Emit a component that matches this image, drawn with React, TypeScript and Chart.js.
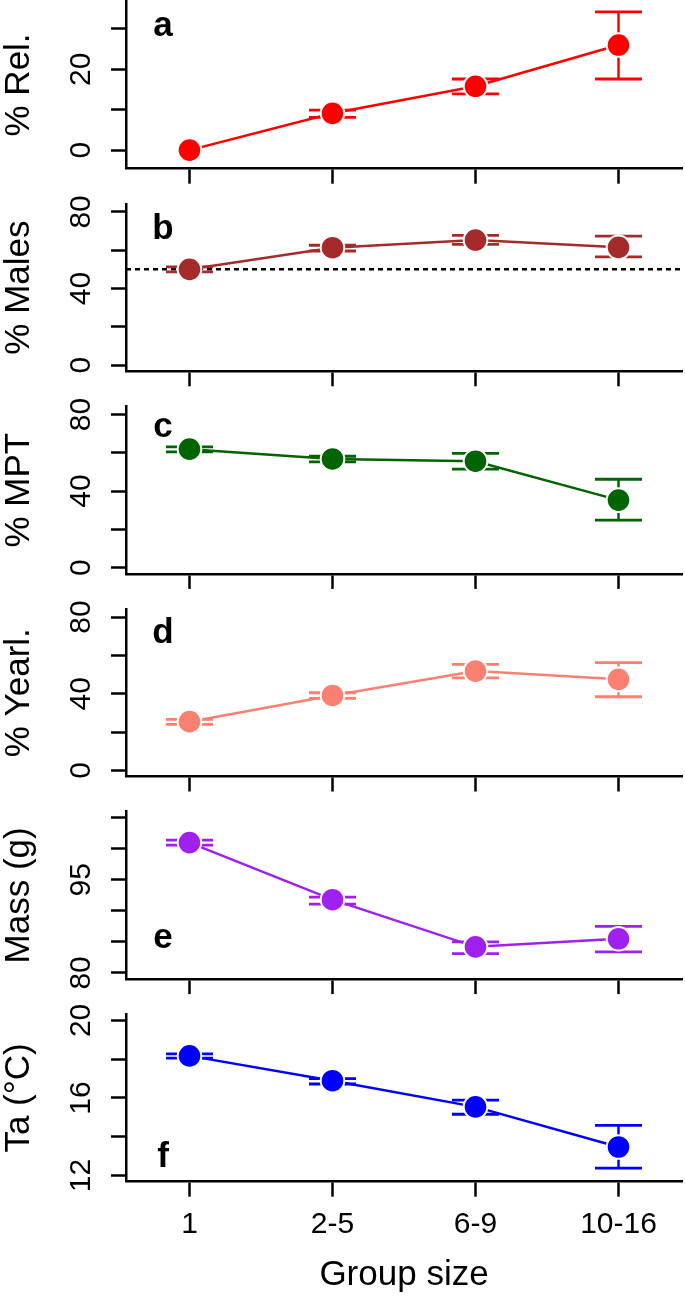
import React, { useEffect, useRef } from 'react';
import { Chart, registerables } from 'chart.js';

Chart.register(...registerables);

// ---------- data ----------
const groups = ['1', '2-5', '6-9', '10-16'];

const relMean = [0, 9.1, 15.8, 26.0];
const relLo = [0, 8.1, 13.9, 17.6];
const relHi = [0, 9.9, 17.6, 34.2];

const malesMean = [50.0, 61.3, 65.3, 61.5];
const malesLo = [48.7, 59.6, 63.1, 56.5];
const malesHi = [51.3, 62.6, 67.8, 67.4];

const mptMean = [61.9, 56.8, 55.6, 35.3];
const mptLo = [60.5, 55.3, 51.5, 24.8];
const mptHi = [63.1, 58.2, 59.7, 46.2];

const yearMean = [25.4, 39.1, 51.8, 47.5];
const yearLo = [24.0, 37.6, 48.3, 38.4];
const yearHi = [26.6, 40.5, 55.3, 56.2];

const massMean = [101.0, 91.8, 84.2, 85.5];
const massLo = [100.6, 91.1, 83.1, 83.4];
const massHi = [101.4, 92.2, 85.0, 87.5];

const taMean = [18.17, 16.89, 15.54, 13.47];
const taLo = [18.05, 16.72, 15.16, 12.38];
const taHi = [18.27, 17.0, 15.89, 14.59];

const relTicks = [0, 10, 20, 30];
const relLabels = [0, 20];
const pctTicks = [0, 20, 40, 60, 80];
const pctLabels = [0, 40, 80];
const massTicks = [80, 85, 90, 95, 100, 105];
const massLabels = [80, 95];
const taTicks = [12, 14, 16, 18, 20];
const taLabels = [12, 16, 20];

const xTitle = 'Group size';

// ---------- styling / layout ----------
const FONT = '"Liberation Sans", Arial, Helvetica, sans-serif';
const W = 685;
const PAGE_H = 1299;
const PITCH = 202.6;
const TOP0 = 1.2;
const PLOT_H = 167.5;
const AXIS_LEFT = 126;
const AXIS_RIGHT = 682;
const X_MIN = 0.556;
const X_MAX = 4.444;

type Panel = {
  letter: string;
  title: string;
  mean: number[];
  lo: number[];
  hi: number[];
  color: string;
  yMin: number;
  yMax: number;
  ticks: number[];
  labels: number[];
  refLine?: number;
  letterY: number;
};

const panels: Panel[] = [
  { letter: 'a', title: '% Rel.', mean: relMean, lo: relLo, hi: relHi, color: '#FF0000', yMin: -4.6, yMax: 36.85, ticks: relTicks, labels: relLabels, letterY: 34.5 },
  { letter: 'b', title: '% Males', mean: malesMean, lo: malesLo, hi: malesHi, color: '#A52A2A', yMin: -3.24, yMax: 84.24, ticks: pctTicks, labels: pctLabels, refLine: 50, letterY: 34.7 },
  { letter: 'c', title: '% MPT', mean: mptMean, lo: mptLo, hi: mptHi, color: '#006400', yMin: -3.24, yMax: 84.24, ticks: pctTicks, labels: pctLabels, letterY: 30.5 },
  { letter: 'd', title: '% Yearl.', mean: yearMean, lo: yearLo, hi: yearHi, color: '#FA8072', yMin: -3.24, yMax: 84.24, ticks: pctTicks, labels: pctLabels, letterY: 34.2 },
  { letter: 'e', title: 'Mass (g)', mean: massMean, lo: massLo, hi: massHi, color: '#A020F0', yMin: 79, yMax: 106, ticks: massTicks, labels: massLabels, letterY: 136.7 },
  { letter: 'f', title: 'Ta (°C)', mean: taMean, lo: taLo, hi: taHi, color: '#0000FF', yMin: 11.68, yMax: 20.32, ticks: taTicks, labels: taLabels, letterY: 152.5 },
];

function makeDecor(p: Panel) {
  return {
    id: 'panelDecor',
    beforeDatasetsDraw(chart: any) {
      const ctx = chart.ctx;
      const xs = chart.scales.x;
      const ys = chart.scales.y;
      const area = chart.chartArea;
      ctx.save();
      if (p.refLine !== undefined) {
        const y = ys.getPixelForValue(p.refLine);
        ctx.strokeStyle = '#000000';
        ctx.lineWidth = 2.5;
        ctx.setLineDash([5, 4]);
        ctx.beginPath();
        ctx.moveTo(area.left, y);
        ctx.lineTo(area.right, y);
        ctx.stroke();
        ctx.setLineDash([]);
      }
      ctx.strokeStyle = p.color;
      p.mean.forEach((_, i) => {
        if (p.lo[i] === p.hi[i]) return;
        const x = xs.getPixelForValue(i + 1);
        const y1 = ys.getPixelForValue(p.lo[i]);
        const y2 = ys.getPixelForValue(p.hi[i]);
        ctx.lineWidth = 2.5;
        ctx.beginPath();
        ctx.moveTo(x, y1);
        ctx.lineTo(x, y2);
        ctx.stroke();
        ctx.lineWidth = 2.8;
        ctx.beginPath();
        ctx.moveTo(x - 23.5, y1);
        ctx.lineTo(x + 23.5, y1);
        ctx.moveTo(x - 23.5, y2);
        ctx.lineTo(x + 23.5, y2);
        ctx.stroke();
      });
      ctx.restore();
    },
    afterDraw(chart: any) {
      const ctx = chart.ctx;
      const ys = chart.scales.y;
      const area = chart.chartArea;
      ctx.save();
      ctx.fillStyle = '#000000';
      ctx.font = `30px ${FONT}`;
      ctx.textAlign = 'center';
      ctx.textBaseline = 'alphabetic';
      p.labels.forEach((v) => {
        const y = ys.getPixelForValue(v);
        ctx.save();
        ctx.translate(90, y);
        ctx.rotate(-Math.PI / 2);
        ctx.fillText(String(v), 0, 0);
        ctx.restore();
      });
      ctx.font = `bold 35px ${FONT}`;
      ctx.textAlign = 'center';
      ctx.fillText(p.letter, area.left + 37, area.top + p.letterY);
      ctx.restore();
    },
  };
}

function PanelChart({ panel, index }: { panel: Panel; index: number }) {
  const ref = useRef<HTMLCanvasElement>(null);
  const isLast = index === panels.length - 1;
  const plotTop = TOP0 + PITCH * index;
  const T = Math.max(0, Math.floor(plotTop) - 28);
  const topRel = plotTop - T;
  const bottomRel = topRel + PLOT_H;
  const H = isLast ? PAGE_H - T : Math.ceil(bottomRel + 22);

  useEffect(() => {
    const canvas = ref.current;
    if (!canvas) return;
    const chart = new Chart(canvas, {
      type: 'line',
      data: {
        datasets: [
          {
            data: panel.mean.map((v, i) => ({ x: i + 1, y: v })),
            borderColor: panel.color,
            backgroundColor: panel.color,
            borderWidth: 2.5,
            pointRadius: 11.8,
            pointBorderWidth: 2,
            pointBorderColor: '#ffffff',
            pointBackgroundColor: panel.color,
            tension: 0,
            clip: false,
          } as any,
        ],
      },
      options: {
        animation: false,
        responsive: false,
        maintainAspectRatio: false,
        devicePixelRatio: 1,
        events: [],
        layout: { autoPadding: false, padding: { top: topRel, left: 0, right: W - AXIS_RIGHT, bottom: 0 } },
        plugins: { legend: { display: false }, tooltip: { enabled: false } },
        scales: {
          x: {
            type: 'linear',
            min: X_MIN,
            max: X_MAX,
            afterBuildTicks: (s: any) => {
              s.ticks = groups.map((_, i) => ({ value: i + 1 }));
            },
            afterFit: (s: any) => {
              s.height = H - bottomRel;
            },
            ticks: {
              display: isLast,
              autoSkip: false,
              maxRotation: 0,
              minRotation: 0,
              padding: 13,
              color: '#000000',
              font: { family: FONT, size: 30, lineHeight: 1 },
              callback: (v: any) => groups[Math.round(Number(v)) - 1] ?? '',
            },
            grid: { drawOnChartArea: false, drawTicks: true, tickLength: 15, tickWidth: 2.5, tickColor: '#000000' },
            border: { display: true, color: '#000000', width: 2.5 },
            title: {
              display: isLast,
              text: xTitle,
              color: '#000000',
              font: { family: FONT, size: 35, lineHeight: 1 },
              padding: { top: 0, bottom: 6.3 },
            },
          },
          y: {
            type: 'linear',
            min: panel.yMin,
            max: panel.yMax,
            afterBuildTicks: (s: any) => {
              s.ticks = panel.ticks.map((v) => ({ value: v }));
            },
            afterFit: (s: any) => {
              s.width = AXIS_LEFT;
            },
            ticks: { display: false },
            grid: { drawOnChartArea: false, drawTicks: true, tickLength: 15, tickWidth: 2.5, tickColor: '#000000' },
            border: { display: true, color: '#000000', width: 2.5 },
            title: {
              display: true,
              text: panel.title,
              color: '#000000',
              font: { family: FONT, size: 35, lineHeight: 1 },
              padding: { top: 2, bottom: 0 },
            },
          },
        },
      } as any,
      plugins: [makeDecor(panel)],
    });
    return () => chart.destroy();
  }, []);

  return (
    <canvas
      ref={ref}
      width={W}
      height={H}
      style={{ position: 'absolute', left: 0, top: T, width: W, height: H }}
    />
  );
}

export default function App() {
  return (
    <div style={{ position: 'absolute', left: 0, top: 0, width: W, height: PAGE_H, background: '#ffffff' }}>
      {panels.map((p, i) => (
        <PanelChart key={p.letter} panel={p} index={i} />
      ))}
    </div>
  );
}
